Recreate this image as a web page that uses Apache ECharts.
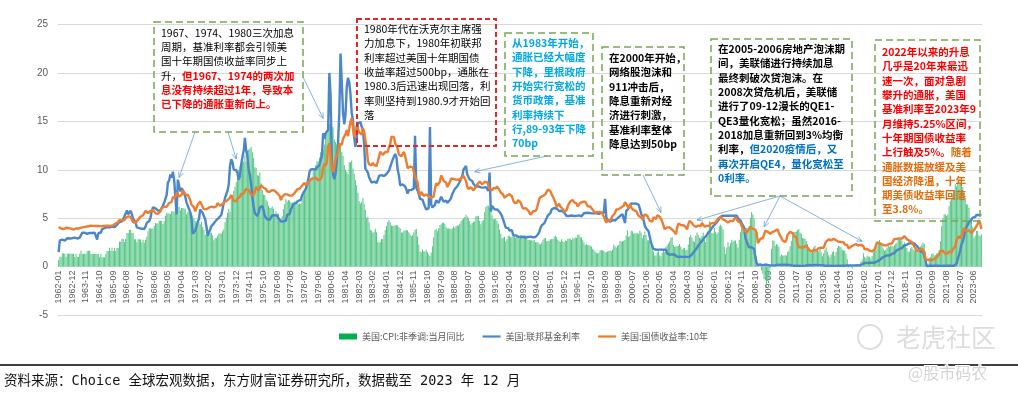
<!DOCTYPE html>
<html><head><meta charset="utf-8">
<script src="https://cdn.jsdelivr.net/npm/echarts@6/dist/echarts.min.js"></script>
<style>html,body{margin:0;padding:0;background:#fff}#c{width:1018px;height:395px}</style>
</head><body><div id="c"></div>
<script>
const startYear = 1962, endYear = 2023;
const seriesNames = ['美国:CPI:非季调:当月同比', '美国:联邦基金利率', '美国:国债收益率:10年'];
const yTicks = { min: -5, max: 25, step: 5 };

// 美国:CPI:非季调:当月同比 (%), monthly 1962-01 .. 2023-12
const cpiYoY = [
1962,0.67,1.01,1.01,1.34,1.34,1.34,1.00,1.34,1.33,1.33,1.33,1.33,
1963,1.33,1.00,1.33,0.99,0.99,1.32,1.65,1.32,1.32,1.32,1.32,1.64,
1964,1.64,1.64,1.31,1.31,1.31,1.31,1.31,1.31,1.30,0.97,1.30,0.97,
1965,0.97,0.97,1.29,1.62,1.62,1.94,1.62,1.94,1.61,1.93,1.61,1.92,
1966,1.92,2.56,2.56,2.87,2.86,2.53,2.85,3.48,3.48,3.79,3.79,3.46,
1967,3.46,2.83,2.83,2.52,2.82,2.82,2.80,2.48,2.78,2.47,2.77,3.08,
1968,3.65,3.95,3.94,3.93,3.92,4.20,4.49,4.46,4.45,4.74,4.73,4.72,
1969,4.40,4.68,5.25,5.52,5.51,5.48,5.44,5.71,5.70,5.67,5.93,6.20,
1970,6.18,6.15,5.82,6.06,6.04,6.01,5.98,5.41,5.66,5.63,5.60,5.57,
1971,5.29,5.00,4.71,4.16,4.40,4.64,4.36,4.62,4.08,3.80,3.28,3.27,
1972,3.27,3.51,3.50,3.49,3.23,2.71,2.95,2.94,3.19,3.42,3.41,3.41,
1973,3.65,3.87,4.59,5.06,5.53,5.97,5.66,7.38,7.36,7.80,8.25,8.71,
1974,9.39,10.02,10.39,10.09,10.71,10.86,11.51,10.86,11.95,12.06,12.20,12.34,
1975,11.80,11.23,10.25,10.21,9.47,9.39,9.72,8.60,7.91,7.44,7.38,6.94,
1976,6.72,6.29,6.07,6.05,6.20,5.97,5.35,5.71,5.49,5.46,4.88,4.86,
1977,5.21,5.91,6.44,6.95,6.73,6.87,6.83,6.62,6.60,6.39,6.72,6.70,
1978,6.84,6.43,6.55,6.50,6.97,7.41,7.70,7.84,8.31,8.93,8.89,9.02,
1979,9.28,9.86,10.09,10.49,10.85,10.89,11.26,11.82,12.18,12.07,12.61,13.29,
1980,13.91,14.18,14.76,14.73,14.41,14.38,13.13,12.87,12.60,12.77,12.65,12.52,
1981,11.83,11.41,10.49,10.00,9.78,9.55,10.76,10.80,10.95,10.14,9.59,8.92,
1982,8.39,7.62,6.78,6.51,6.68,7.06,6.44,5.85,5.04,5.14,4.59,3.83,
1983,3.71,3.49,3.60,3.90,3.55,2.58,2.46,2.56,2.86,2.85,3.27,3.79,
1984,4.19,4.60,4.80,4.56,4.23,4.22,4.20,4.29,4.27,4.26,4.05,3.95,
1985,3.53,3.52,3.70,3.69,3.77,3.76,3.55,3.35,3.14,3.23,3.51,3.80,
1986,3.89,3.11,2.26,1.59,1.49,1.77,1.58,1.57,1.75,1.47,1.28,1.10,
1987,1.46,2.10,3.03,3.78,3.86,3.65,3.93,4.28,4.36,4.53,4.53,4.43,
1988,4.05,3.94,3.93,3.90,3.89,3.96,4.13,4.02,4.17,4.25,4.25,4.42,
1989,4.67,4.83,4.98,5.11,5.36,5.17,4.98,4.71,4.34,4.49,4.66,4.65,
1990,5.20,5.26,5.23,4.71,4.36,4.67,4.82,5.62,6.16,6.29,6.27,6.11,
1991,5.65,5.31,4.90,4.89,4.95,4.70,4.45,3.80,3.39,2.92,2.99,3.06,
1992,2.60,2.82,3.19,3.18,3.02,3.09,3.16,3.15,2.99,3.20,3.05,2.90,
1993,3.26,3.25,3.09,3.23,3.22,3.00,2.78,2.77,2.69,2.75,2.68,2.75,
1994,2.52,2.52,2.51,2.36,2.29,2.49,2.77,2.90,2.96,2.61,2.67,2.67,
1995,2.80,2.86,2.85,3.05,3.19,3.04,2.76,2.62,2.54,2.81,2.61,2.54,
1996,2.73,2.65,2.84,2.90,2.89,2.75,2.95,2.88,3.00,2.99,3.26,3.32,
1997,3.04,3.03,2.76,2.50,2.23,2.30,2.23,2.23,2.15,2.08,1.83,1.70,
1998,1.57,1.44,1.37,1.44,1.69,1.68,1.68,1.62,1.49,1.49,1.55,1.61,
1999,1.67,1.61,1.73,2.28,2.09,1.96,2.14,2.26,2.63,2.56,2.62,2.68,
2000,2.74,3.22,3.76,3.07,3.19,3.73,3.66,3.41,3.45,3.45,3.45,3.39,
2001,3.73,3.53,2.92,3.27,3.62,3.25,2.72,2.72,2.65,2.13,1.90,1.55,
2002,1.14,1.14,1.48,1.64,1.18,1.07,1.46,1.80,1.51,2.03,2.20,2.38,
2003,2.60,2.98,3.02,2.22,2.06,2.11,2.11,2.16,2.32,2.04,1.77,1.88,
2004,1.93,1.69,1.74,2.29,3.05,3.27,2.99,2.65,2.54,3.19,3.52,3.26,
2005,2.97,3.01,3.15,3.51,2.80,2.53,3.17,3.64,4.69,4.35,3.46,3.42,
2006,3.99,3.60,3.36,3.55,4.17,4.32,4.15,3.82,2.06,1.31,1.97,2.54,
2007,2.08,2.42,2.78,2.57,2.69,2.69,2.36,1.97,2.76,3.54,4.31,4.08,
2008,4.28,4.03,3.98,3.94,4.18,5.02,5.60,5.37,4.94,3.66,1.07,0.09,
2009,0.03,0.24,-0.38,-0.74,-1.28,-1.43,-2.10,-1.48,-1.29,-0.18,1.84,2.72,
2010,2.63,2.14,2.31,2.24,2.02,1.05,1.24,1.15,1.14,1.17,1.14,1.50,
2011,1.63,2.11,2.68,3.16,3.57,3.56,3.63,3.77,3.87,3.53,3.39,2.96,
2012,2.93,2.87,2.65,2.30,1.70,1.66,1.41,1.69,1.99,2.16,1.76,1.74,
2013,1.59,1.98,1.47,1.06,1.36,1.75,1.96,1.52,1.18,0.96,1.24,1.50,
2014,1.58,1.13,1.51,1.95,2.13,2.07,1.99,1.70,1.66,1.66,1.32,0.76,
2015,-0.09,-0.03,-0.07,-0.20,-0.04,0.12,0.17,0.20,-0.04,0.17,0.50,0.73,
2016,1.37,1.02,0.85,1.13,1.02,1.01,0.84,1.06,1.46,1.64,1.69,2.07,
2017,2.50,2.74,2.38,2.20,1.87,1.63,1.73,1.94,2.23,2.04,2.20,2.11,
2018,2.07,2.21,2.36,2.46,2.80,2.87,2.95,2.70,2.28,2.52,2.18,1.91,
2019,1.55,1.52,1.86,2.00,1.79,1.65,1.81,1.75,1.71,1.76,2.05,2.29,
2020,2.49,2.33,1.54,0.33,0.12,0.65,0.99,1.31,1.37,1.18,1.17,1.36,
2021,1.40,1.68,2.62,4.16,4.99,5.39,5.37,5.25,5.39,6.22,6.81,7.04,
2022,7.48,7.87,8.54,8.26,8.58,9.06,8.52,8.26,8.20,7.75,7.11,6.45,
2023,6.41,6.04,4.98,4.93,4.05,2.97,3.18,3.67,3.70,3.24,3.14,3.35
];

// 美国:联邦基金利率 (%), monthly
const fedFunds = [
1962,1.50,2.70,2.85,2.78,2.60,2.68,2.71,2.93,2.90,2.90,2.94,2.93,
1963,2.92,3.00,2.98,2.90,3.00,2.99,3.02,3.49,3.48,3.50,3.48,3.38,
1964,3.48,3.48,3.43,3.47,3.50,3.50,3.42,2.80,3.45,3.36,3.52,3.85,
1965,3.90,3.98,4.04,4.09,4.10,4.04,4.09,4.12,4.01,4.08,4.10,4.32,
1966,4.42,4.60,4.65,4.67,4.90,5.17,5.30,5.80,5.40,5.53,5.76,5.40,
1967,4.94,5.00,4.53,4.05,3.94,3.98,3.79,3.90,3.99,3.88,4.13,4.51,
1968,4.61,4.71,5.05,5.76,6.11,6.07,6.02,6.03,5.78,5.91,5.82,6.02,
1969,6.30,6.61,6.79,7.41,8.67,8.90,9.50,9.19,9.80,9.00,8.85,5.40,
1970,8.98,8.98,7.76,8.10,7.95,7.61,7.21,6.61,6.29,6.20,5.60,4.90,
1971,3.40,3.50,3.71,4.16,4.63,4.91,5.90,6.00,5.55,5.20,4.91,4.14,
1972,3.20,3.10,3.83,4.17,4.27,4.46,4.55,4.80,4.87,5.04,5.06,5.33,
1973,5.94,6.58,7.09,7.12,7.84,8.49,10.40,11.10,10.78,10.01,10.03,9.95,
1974,9.65,8.97,9.35,10.51,11.31,11.93,13.30,12.01,11.34,10.06,9.45,8.53,
1975,7.13,6.24,5.54,5.49,5.22,5.55,6.10,6.14,6.24,5.82,5.22,5.20,
1976,4.87,4.77,4.84,4.82,5.29,5.48,5.31,5.29,5.25,5.02,4.95,4.65,
1977,4.61,4.68,4.69,4.73,5.35,5.39,5.42,5.90,6.14,6.47,6.51,6.56,
1978,6.70,6.78,6.79,6.89,7.36,7.60,7.81,8.04,8.45,8.96,9.76,10.03,
1979,10.07,10.06,10.09,10.01,10.24,10.29,10.47,10.94,11.43,13.77,13.18,13.78,
1980,13.82,14.13,20.00,17.61,10.98,9.47,9.03,9.61,10.87,12.81,15.85,22.00,
1981,19.08,15.93,14.70,15.72,18.52,19.50,19.04,17.82,15.87,15.08,13.31,12.37,
1982,13.22,14.78,14.68,14.94,14.45,14.15,12.59,10.12,10.31,9.71,9.20,8.95,
1983,8.68,8.51,8.77,8.80,8.63,8.98,9.37,9.56,9.45,9.48,9.34,9.47,
1984,9.56,9.59,9.91,10.29,10.32,11.06,11.23,11.64,11.30,9.99,9.43,8.38,
1985,8.35,8.50,8.58,8.27,7.97,7.53,7.88,7.90,7.92,7.99,8.05,13.50,
1986,8.14,7.86,7.48,6.99,6.85,6.92,6.56,6.17,5.89,5.85,6.04,14.40,
1987,6.43,6.10,6.13,6.37,6.85,6.73,6.58,6.73,7.22,7.29,6.69,6.77,
1988,6.83,6.58,6.58,6.87,7.09,7.51,7.75,8.01,8.19,8.30,8.35,8.76,
1989,9.12,9.36,10.00,9.84,10.40,9.53,9.24,8.99,9.02,8.84,8.55,8.45,
1990,8.23,8.24,8.28,8.26,8.18,8.29,8.15,8.13,8.20,8.11,7.81,9.70,
1991,5.70,6.25,6.12,5.91,5.78,5.90,5.82,5.66,5.45,5.21,4.81,4.43,
1992,4.03,4.06,3.98,3.73,3.82,3.76,3.25,3.30,3.22,3.10,3.09,2.92,
1993,3.02,3.03,3.07,2.96,3.00,3.04,3.06,3.03,3.09,2.99,3.02,2.96,
1994,3.05,3.25,3.34,3.56,4.01,4.25,4.26,4.47,4.73,4.76,5.29,5.45,
1995,5.53,5.92,5.98,6.05,6.01,6.00,5.85,5.74,5.80,5.76,5.80,5.60,
1996,5.56,5.22,5.31,5.22,5.24,5.27,5.40,5.22,5.30,5.24,5.31,5.29,
1997,5.25,5.19,5.39,5.51,5.50,5.56,5.52,5.54,5.54,5.50,5.52,5.50,
1998,5.56,5.51,5.49,5.45,5.49,5.56,5.54,5.55,7.00,5.07,4.83,4.68,
1999,4.63,4.76,4.81,4.74,4.74,4.76,4.99,5.07,5.22,5.20,5.42,5.30,
2000,4.50,5.73,5.85,6.02,6.27,6.53,6.54,6.50,6.52,6.51,6.51,6.40,
2001,5.98,5.49,5.31,4.80,4.21,3.97,3.77,3.65,3.07,2.49,2.09,1.82,
2002,1.73,1.74,1.73,1.75,1.75,1.75,1.73,1.74,1.75,1.75,1.34,1.24,
2003,1.24,1.26,1.25,1.26,1.26,1.22,1.01,1.03,1.01,1.01,1.00,0.98,
2004,1.00,1.01,1.00,1.00,1.00,1.03,1.26,1.43,1.61,1.76,1.93,2.16,
2005,2.28,2.50,2.63,2.79,3.00,3.04,3.26,3.50,3.62,3.78,4.00,4.16,
2006,4.29,4.49,4.59,4.79,4.94,4.99,5.24,5.25,5.25,5.25,5.25,5.24,
2007,5.25,5.26,5.26,5.25,5.25,5.25,5.26,5.02,4.94,4.76,4.49,4.24,
2008,3.94,2.98,2.61,2.28,1.98,2.00,2.01,2.00,1.81,0.97,0.39,0.16,
2009,0.15,0.22,0.18,0.15,0.18,0.21,0.16,0.16,0.15,0.12,0.12,0.12,
2010,0.11,0.13,0.16,0.20,0.20,0.18,0.18,0.19,0.19,0.19,0.19,0.18,
2011,0.17,0.16,0.14,0.10,0.09,0.09,0.07,0.10,0.08,0.07,0.08,0.07,
2012,0.08,0.10,0.13,0.14,0.16,0.16,0.16,0.13,0.14,0.16,0.16,0.16,
2013,0.14,0.15,0.14,0.15,0.11,0.09,0.09,0.08,0.08,0.09,0.08,0.09,
2014,0.07,0.07,0.08,0.09,0.09,0.10,0.09,0.09,0.09,0.09,0.09,0.12,
2015,0.11,0.11,0.11,0.12,0.12,0.13,0.13,0.14,0.14,0.12,0.12,0.24,
2016,0.34,0.38,0.36,0.37,0.37,0.38,0.39,0.40,0.40,0.40,0.41,0.54,
2017,0.65,0.66,0.79,0.90,0.91,1.04,1.15,1.16,1.15,1.15,1.16,1.30,
2018,1.41,1.42,1.51,1.69,1.70,1.82,1.91,1.91,1.95,2.19,2.20,2.27,
2019,2.40,2.40,2.41,2.42,2.39,2.38,2.40,2.13,2.04,1.83,1.55,1.55,
2020,1.55,1.58,0.65,0.05,0.05,0.08,0.09,0.10,0.09,0.09,0.09,0.09,
2021,0.09,0.08,0.07,0.07,0.06,0.08,0.10,0.09,0.08,0.08,0.08,0.08,
2022,0.08,0.08,0.20,0.33,0.77,1.21,1.68,2.33,2.56,3.08,3.78,4.10,
2023,4.33,4.57,4.65,4.83,5.06,5.08,5.12,5.33,5.33,5.33,5.33,5.33
];

// 美国:国债收益率:10年 (%), monthly
const treasury10y = [
1962,4.08,4.04,3.93,3.84,3.87,3.91,4.01,3.98,3.98,3.93,3.92,3.86,
1963,3.83,3.92,3.93,3.97,3.93,3.99,4.02,4.00,4.08,4.11,4.12,4.13,
1964,4.17,4.15,4.22,4.23,4.20,4.17,4.19,4.19,4.20,4.19,4.15,4.18,
1965,4.19,4.21,4.21,4.20,4.21,4.21,4.20,4.25,4.29,4.35,4.45,4.62,
1966,4.61,4.83,4.87,4.75,4.78,4.81,5.02,5.22,5.18,5.01,5.16,4.84,
1967,4.58,4.63,4.54,4.59,4.85,5.02,5.16,5.28,5.30,5.48,5.75,5.70,
1968,5.53,5.56,5.74,5.64,5.87,5.72,5.50,5.42,5.46,5.58,5.70,6.03,
1969,6.04,6.19,6.30,6.17,6.32,6.57,6.72,6.69,7.16,7.10,7.14,7.65,
1970,7.79,7.24,7.07,7.39,7.91,7.84,7.46,7.53,7.39,7.33,6.84,6.39,
1971,6.24,6.11,5.70,5.83,6.39,6.52,6.73,6.58,6.14,5.93,5.81,5.93,
1972,5.95,6.08,6.07,6.19,6.13,6.11,6.11,6.21,6.55,6.48,6.28,6.36,
1973,6.46,6.64,6.71,6.67,6.85,6.90,7.13,7.40,7.09,6.79,6.73,6.74,
1974,6.99,6.96,7.21,7.51,7.58,7.54,7.81,8.04,8.04,7.90,7.68,7.43,
1975,7.50,7.39,7.73,8.23,8.06,7.86,8.06,8.40,8.43,8.14,8.05,8.00,
1976,7.74,7.79,7.73,7.56,7.90,7.86,7.83,7.77,7.59,7.41,7.29,6.87,
1977,7.21,7.39,7.46,7.37,7.46,7.28,7.33,7.40,7.34,7.52,7.58,7.69,
1978,7.96,8.03,8.04,8.15,8.35,8.46,8.64,8.41,8.42,8.64,8.81,9.01,
1979,9.10,9.10,9.12,9.18,9.25,8.91,8.95,9.03,9.33,10.30,10.65,10.39,
1980,10.80,12.41,12.75,11.47,10.18,9.78,10.25,11.10,11.51,11.75,12.68,12.84,
1981,12.57,13.19,13.12,13.68,14.10,13.47,14.28,14.94,15.32,15.15,13.39,13.72,
1982,14.59,14.43,13.86,13.87,13.62,14.30,13.95,13.06,12.34,10.91,10.55,10.54,
1983,10.46,10.72,10.51,10.40,10.38,10.85,11.38,11.85,11.65,11.54,11.69,11.83,
1984,11.67,11.84,12.32,12.63,13.41,13.56,13.36,12.72,12.52,12.16,11.57,11.50,
1985,11.38,11.51,11.86,11.43,10.85,10.16,10.31,10.33,10.37,10.24,9.78,9.26,
1986,9.19,8.70,7.78,7.30,7.71,7.80,7.30,7.17,7.45,7.43,7.25,7.11,
1987,7.08,7.25,7.25,8.02,8.61,8.40,8.45,8.76,9.42,9.52,8.86,8.99,
1988,8.67,8.21,8.37,8.72,9.09,8.92,9.06,9.26,8.98,8.80,8.96,9.11,
1989,9.09,9.17,9.36,9.18,8.86,8.28,8.02,8.11,8.19,8.01,7.87,7.84,
1990,8.21,8.47,8.59,8.79,8.76,8.48,8.47,8.75,8.89,8.72,8.39,8.08,
1991,8.09,7.85,8.11,8.04,8.07,8.28,8.27,7.90,7.65,7.53,7.42,7.09,
1992,7.03,7.34,7.54,7.48,7.39,7.26,6.84,6.59,6.42,6.59,6.87,6.77,
1993,6.60,6.26,5.98,5.97,6.04,5.96,5.81,5.68,5.36,5.33,5.72,5.77,
1994,5.75,5.97,6.48,6.97,7.18,7.10,7.30,7.24,7.46,7.74,7.96,7.81,
1995,7.78,7.47,7.20,7.06,6.63,6.17,6.28,6.49,6.20,6.04,5.93,5.71,
1996,5.65,5.81,6.27,6.51,6.74,6.91,6.87,6.64,6.83,6.53,6.20,6.30,
1997,6.58,6.42,6.69,6.89,6.71,6.49,6.22,6.30,6.21,6.03,5.88,5.81,
1998,5.54,5.57,5.65,5.64,5.65,5.50,5.46,5.34,4.81,4.53,4.83,4.65,
1999,4.72,5.00,5.23,5.18,5.54,5.90,5.79,5.94,5.92,6.11,6.03,6.28,
2000,6.66,6.52,6.26,5.99,6.44,6.10,6.05,5.83,5.80,5.74,5.72,5.24,
2001,5.16,5.10,4.89,5.14,5.39,5.28,5.24,4.97,4.73,4.57,4.65,5.09,
2002,5.04,4.91,5.28,5.21,5.16,4.93,4.65,4.26,3.87,3.94,4.05,4.03,
2003,4.05,3.90,3.81,3.96,3.57,3.33,3.98,4.45,4.27,4.29,4.30,4.27,
2004,4.15,4.08,3.83,4.35,4.72,4.73,4.50,4.28,4.13,4.10,4.19,4.23,
2005,4.22,4.17,4.50,4.34,4.14,4.00,4.18,4.26,4.20,4.46,4.54,4.47,
2006,4.42,4.57,4.72,4.99,5.11,5.11,5.09,4.88,4.72,4.73,4.60,4.56,
2007,4.76,4.72,4.56,4.69,4.75,5.10,5.00,4.67,4.52,4.53,4.15,4.10,
2008,3.74,3.74,3.51,3.68,3.88,4.10,4.01,3.89,3.69,3.81,3.53,2.42,
2009,2.52,2.87,2.82,2.93,3.29,3.72,3.56,3.59,3.40,3.39,3.40,3.59,
2010,3.73,3.69,3.73,3.85,3.42,3.20,3.01,2.70,2.65,2.54,2.76,3.29,
2011,3.39,3.58,3.41,3.46,3.17,3.00,3.00,2.30,1.98,2.15,2.01,1.98,
2012,1.97,1.97,2.17,2.05,1.80,1.62,1.53,1.68,1.72,1.75,1.65,1.72,
2013,1.91,1.98,1.96,1.76,1.93,2.30,2.58,2.74,2.81,2.62,2.72,2.90,
2014,2.86,2.71,2.72,2.71,2.56,2.60,2.54,2.42,2.53,2.30,2.33,2.21,
2015,1.88,1.98,2.04,1.94,2.20,2.36,2.32,2.17,2.17,2.07,2.26,2.24,
2016,2.09,1.78,1.89,1.81,1.81,1.64,1.50,1.56,1.63,1.76,2.14,2.49,
2017,2.43,2.42,2.48,2.30,2.30,2.19,2.32,2.21,2.20,2.36,2.35,2.40,
2018,2.58,2.86,2.84,2.87,2.98,2.91,2.89,2.89,3.00,3.15,3.12,2.83,
2019,2.71,2.68,2.57,2.53,2.40,2.07,2.06,1.63,1.70,1.71,1.81,1.86,
2020,1.76,1.50,0.87,0.66,0.67,0.73,0.62,0.65,0.68,0.79,0.87,0.93,
2021,1.08,1.26,1.61,1.64,1.62,1.52,1.32,1.28,1.37,1.58,1.56,1.47,
2022,1.76,1.93,2.13,2.75,2.90,3.14,2.90,2.90,3.52,3.98,3.89,3.62,
2023,3.53,3.75,3.66,3.46,3.57,3.75,3.90,4.17,4.38,4.80,4.50,3.88
];

// Each row above starts with its year; strip the year markers to get the monthly values.
function monthly(rows) {
  const out = [];
  for (let i = 0; i < rows.length; i += 13) out.push(...rows.slice(i + 1, i + 13));
  return out;
}
const months = [];
for (let y = startYear; y <= endYear; y++)
  for (let m = 1; m <= 12; m++) months.push(y + '-' + String(m).padStart(2, '0'));

const FONT = '"Noto Sans CJK SC", "Microsoft YaHei", sans-serif';
const chart = echarts.init(document.getElementById('c'), null, { renderer: 'canvas' });

const GRID_TOP = 24.5, GRID_BOTTOM = 80, H = 395;
const plotH = H - GRID_TOP - GRID_BOTTOM;
// distance from the bottom of the plot (y = min) up to the zero line
const zeroOffset = plotH * (0 - yTicks.min) / (yTicks.max - yTicks.min);

const option = {
  animation: false,
  backgroundColor: '#fff',
  textStyle: { fontFamily: FONT },
  grid: { left: 58, right: 36, top: GRID_TOP, bottom: GRID_BOTTOM, containLabel: false },
  legend: {
    left: 334, top: 327, itemWidth: 18, itemHeight: 6, itemGap: 18,
    textStyle: { fontSize: 9, color: '#595959', fontFamily: FONT },
    data: [
      { name: seriesNames[0], icon: 'rect', itemStyle: { color: '#00B050' } },
      { name: seriesNames[1], icon: 'path://M0 0H18V2.2H0Z' },
      { name: seriesNames[2], icon: 'path://M0 0H18V2.2H0Z' }
    ]
  },
  xAxis: {
    type: 'category', data: months, boundaryGap: true, position: 'bottom',
    offset: -zeroOffset,
    axisLine: { onZero: false, lineStyle: { color: '#D9D9D9', width: 1 } },
    axisTick: { show: false },
    axisLabel: { interval: 10, rotate: 90, fontSize: 9, color: '#595959', margin: 4, fontFamily: 'Liberation Sans, Arial, sans-serif' },
    splitLine: { show: false }
  },
  yAxis: {
    type: 'value', min: yTicks.min, max: yTicks.max, interval: yTicks.step,
    axisLine: { show: false }, axisTick: { show: false },
    axisLabel: { fontSize: 10, color: '#595959', margin: 10, fontFamily: 'Liberation Sans, Arial, sans-serif' },
    splitLine: { lineStyle: { color: '#D9D9D9', width: 1 } }
  },
  series: [
    { name: seriesNames[0], type: 'bar', data: monthly(cpiYoY), barCategoryGap: '25%',
      itemStyle: { color: '#55C585' }, z: 1 },
    { name: seriesNames[1], type: 'line', data: monthly(fedFunds), showSymbol: false, symbol: 'none',
      lineStyle: { color: '#4A86C8', width: 2.4 }, itemStyle: { color: '#4A86C8' }, z: 3 },
    { name: seriesNames[2], type: 'line', data: monthly(treasury10y), showSymbol: false, symbol: 'none',
      lineStyle: { color: '#ED7D31', width: 2.4 }, itemStyle: { color: '#ED7D31' }, z: 4 }
  ]
};
chart.setOption(option);

// ---------- annotations ----------
const GREEN = '#78A652', RED = '#E3282D', ARROW = '#6A9FD4';
function box(x, y, w, h, color, dash, lw) {
  return { type: 'rect', shape: { x, y, width: w, height: h }, z: 50,
    style: { fill: null, stroke: color, lineWidth: lw, lineDash: dash } };
}
function txt(x, y, text, base, rich) {
  return { type: 'text', x, y, z: 51,
    style: Object.assign({ text, fontSize: 10.5, fontFamily: FONT, lineHeight: 14.3,
      fill: '#000', textVerticalAlign: 'top', verticalAlign: 'top', rich: rich || {} }, base) };
}
const rs = (fill) => ({ fill, color: fill, fontWeight: 'bold', fontSize: 10.5, fontFamily: FONT, lineHeight: 14.3 });

function arrow(from, toData) {
  const to = chart.convertToPixel({ xAxisIndex: 0, yAxisIndex: 0 }, toData);
  const dx = to[0] - from[0], dy = to[1] - from[1];
  const a = Math.atan2(dy, dx), L = 6, s = 0.42;
  const p1 = [to[0] - L * Math.cos(a - s), to[1] - L * Math.sin(a - s)];
  const p2 = [to[0] - L * Math.cos(a + s), to[1] - L * Math.sin(a + s)];
  return [
    { type: 'line', z: 49, shape: { x1: from[0], y1: from[1], x2: to[0], y2: to[1] }, style: { stroke: ARROW, lineWidth: 0.8 } },
    { type: 'polyline', z: 49, shape: { points: [p1, to, p2] }, style: { stroke: ARROW, lineWidth: 0.8, fill: null } }
  ];
}

const graphics = [
  box(154, 22, 149, 110, GREEN, [7, 4], 1.5),
  txt(161, 25.5, '1967、1974、1980三次加息\n周期，基准利率都会引领美\n国十年期国债收益率同步上\n升，{r|但1967、1974的两次加}\n{r|息没有持续超过1年，导致本}\n{r|已下降的通胀重新向上。}', {}, { r: rs('#FF0000') }),

  box(357, 19, 139, 127, RED, [5, 3], 2),
  txt(364, 22, '1980年代在沃克尔主席强\n力加息下，1980年初联邦\n利率超过美国十年期国债\n收益率超过500bp，通胀在\n1980.3后迅速出现回落，利\n率则坚持到1980.9才开始回\n落', {}),

  box(505, 33, 88, 123, GREEN, [7, 4], 1.5),
  txt(512, 36, '从1983年开始，\n通胀已经大幅度\n下降，里根政府\n开始实行宽松的\n货币政策，基准\n利率持续下\n行,89-93年下降\n70bp', { fill: '#00A8E8', fontWeight: 'bold' }),

  box(602, 47, 82, 128, GREEN, [7, 4], 1.5),
  txt(609, 51, '在2000年开始，\n网络股泡沫和\n911冲击后，\n降息重新对经\n济进行刺激，\n基准利率整体\n降息达到50bp', { fontWeight: 'bold' }),

  box(711, 39, 141, 157, GREEN, [7, 4], 1.5),
  txt(718, 42, '在2005-2006房地产泡沫期\n间，美联储进行持续加息\n最终刺破次贷泡沫。在\n2008次贷危机后，美联储\n进行了09-12漫长的QE1-\nQE3量化宽松；虽然2016-\n2018加息重新回到3%均衡\n利率，{b|但2020疫情后，又}\n{b|再次开启QE4，量化宽松至}\n{b|0利率。}', { fontWeight: 'bold' }, { b: rs('#0070C0') }),

  box(875, 40, 105, 181, GREEN, [7, 4], 1.5),
  txt(882, 45, '2022年以来的升息\n几乎是20年来最迅\n速一次，面对急剧\n攀升的通胀，美国\n基准利率至2023年9\n月维持5.25%区间，\n十年期国债收益率\n上行触及5%。{o|随着}\n{o|通胀数据放缓及美}\n{o|国经济降温，十年}\n{o|期美债收益率回落}\n{o|至3.8%。}', { fill: '#FF0000', fontWeight: 'bold' }, { o: rs('#E46C0A') }),

  ...arrow([303, 77], ['1979-10', 15.3]),
  ...arrow([195, 132], ['1970-02', 9.2]),
  ...arrow([228, 132], ['1973-12', 11.1]),
  ...arrow([547, 156], ['1989-12', 9.8]),
  ...arrow([643, 175], ['2002-06', 5.6]),
  ...arrow([780, 196], ['2004-11', 4.8]),
  ...arrow([780, 196], ['2009-05', 4.1]),
  ...arrow([780, 196], ['2015-12', 2.6]),

  // source line & text
  { type: 'line', z: 40, shape: { x1: 0, y1: 365, x2: 1018, y2: 365 }, style: { stroke: '#000', lineWidth: 1.3 } },
  { type: 'text', x: 4, y: 381, z: 41, style: { text: '资料来源：Choice 全球宏观数据，东方财富证券研究所，数据截至 2023 年 12 月',
      fontSize: 13.5, fontFamily: '"DejaVu Sans Mono", "Noto Sans CJK SC", monospace', fill: '#111', verticalAlign: 'middle', textVerticalAlign: 'middle' } },

  // watermark
  { type: 'circle', z: 30, shape: { cx: 870, cy: 337, r: 12 }, style: { fill: null, stroke: '#DDDDDD', lineWidth: 2 } },
  { type: 'text', x: 896, y: 337, z: 30, style: { text: '老虎社区', fontSize: 25, fontFamily: FONT, fill: '#DDDDDD', verticalAlign: 'middle', textVerticalAlign: 'middle' } },
  { type: 'text', x: 908, y: 373, z: 42, style: { text: '@股市码农', fontSize: 16, fontFamily: FONT, fill: '#D4D4D4', stroke: '#fff', lineWidth: 2, verticalAlign: 'middle', textVerticalAlign: 'middle' } }
];
chart.setOption({ graphic: graphics });
</script>
</body></html>
